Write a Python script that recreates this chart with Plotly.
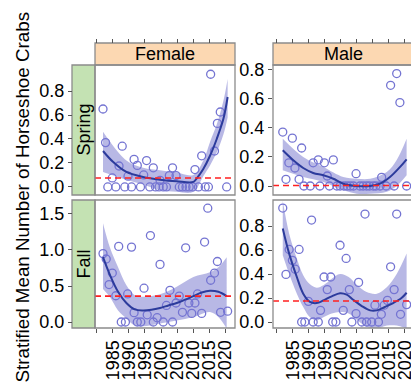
import plotly.graph_objects as go

# ---------------- data ----------------
# Female / Spring
fs_year = [1981.9, 1982.7, 1983.4, 1984.8, 1985.9, 1986.9, 1987.9, 1988.7, 1989.7, 1990.8,
           1991.6, 1992.6, 1993.6, 1994.6, 1995.5, 1996.5, 1997.6, 1998.3, 1999.4, 1999.7,
           2000.7, 2001.7, 2002.6, 2003.6, 2004.7, 2005.7, 2006.7, 2007.8, 2008.8, 2009.9,
           2010.6, 2011.7, 2012.7, 2013.8, 2014.8, 2015.5, 2016.7, 2017.6, 2018.5, 2020.5]
fs_val = [0.65, 0.37, 0.0, 0.075, 0.0, 0.175, 0.34, 0.0, 0.09, 0.0,
          0.23, 0.18, 0.0, 0.10, 0.22, 0.0, 0.16, 0.0, 0.0, 0.055,
          0.0, 0.0, 0.095, 0.16, 0.095, 0.0, 0.0, 0.0, 0.0, 0.0,
          0.145, 0.0, 0.26, 0.0, 0.0, 0.94, 0.30, 0.53, 0.625, 0.0]
fs_fit_year = [1981.9, 1985, 1989.2, 1994.4, 1999.7, 2004.9, 2010.1, 2011.1, 2013.2, 2015.3, 2017.4, 2019.5, 2020.8]
fs_fit = [0.30, 0.21, 0.125, 0.083, 0.06, 0.047, 0.042, 0.07, 0.15, 0.26, 0.40, 0.57, 0.75]
fs_band_year = [1981.9, 1989.2, 1994.4, 1999.7, 2004.9, 2010.1, 2013.2, 2015.3, 2017.4, 2019.5, 2020.8]
fs_hi = [0.46, 0.22, 0.16, 0.14, 0.12, 0.10, 0.22, 0.375, 0.52, 0.72, 0.90]
fs_lo = [0.125, 0.06, 0.02, -0.025, -0.04, -0.04, 0.09, 0.18, 0.29, 0.44, 0.58]
fs_ref = 0.075

# Male / Spring
ms_year = [1981.9, 1982.9, 1983.8, 1984.9, 1985.7, 1987.0, 1987.8, 1988.5, 1990.5, 1991.4,
           1993.0, 1993.5, 1994.9, 1995.8, 1996.5, 1997.7, 1998.8, 1999.8, 2001.0, 2002.0,
           2003.0, 2004.0, 2004.8, 2006.0, 2007.0, 2008.1, 2009.0, 2010.2, 2011.0, 2012.3,
           2012.8, 2014.2, 2015.6, 2016.7, 2017.5, 2018.5, 2020.6]
ms_val = [0.372, 0.046, 0.16, 0.33, 0.124, 0.046, 0.262, 0.0, 0.0, 0.16,
          0.18, 0.0, 0.16, 0.069, 0.0, 0.18, 0.0, 0.0, 0.0, 0.0,
          0.0, 0.0, 0.085, 0.0, 0.0, 0.0, 0.0, 0.0, 0.0, 0.0,
          0.06, 0.0, 0.694, 0.0, 0.775, 0.575, 0.0]
ms_fit_year = [1981.9, 1985.2, 1988.3, 1991.4, 1994.6, 1997.7, 2000.8, 2005, 2009.2, 2012.3, 2015.4, 2018.5, 2020.6]
ms_fit = [0.246, 0.177, 0.124, 0.09, 0.074, 0.05, 0.016, 0.0, 0.0, 0.016, 0.062, 0.13, 0.184]
ms_band_year = [1981.9, 1988.3, 1994.6, 2000.8, 2005, 2009.2, 2014.4, 2017.5, 2020.6]
ms_hi = [0.326, 0.2, 0.131, 0.062, 0.05, 0.05, 0.097, 0.18, 0.326]
ms_lo = [0.108, 0.062, 0.028, -0.03, -0.053, -0.053, -0.04, 0.0, 0.074]
ms_ref = 0.003

# Female / Fall
ff_year = [1981.9, 1982.9, 1983.8, 1984.8, 1985.9, 1986.8, 1987.6, 1988.9, 1989.6, 1990.8,
           1991.6, 1992.6, 1993.7, 1994.7, 1995.7, 1996.7, 1997.6, 1998.8, 1999.7, 2000.7,
           2001.7, 2002.8, 2003.6, 2004.7, 2005.7, 2006.7, 2007.7, 2008.7, 2009.6, 2010.6,
           2011.4, 2012.7, 2013.6, 2014.6, 2015.5, 2016.7, 2017.6, 2018.6, 2020.8]
ff_val = [0.95, 0.875, 0.52, 0.68, 0.365, 1.05, 0.0, 0.0, 0.39, 1.04,
          0.13, 0.0, 0.0, 0.47, 0.10, 1.20, 0.0, 0.06, 0.80, 0.0,
          0.23, 0.44, 0.0, 0.264, 0.36, 0.135, 1.03, 0.264, 0.12, 0.264,
          0.39, 0.12, 1.11, 1.58, 0.58, 0.68, 0.84, 0.135, 0.15]
ff_fit_year = [1981.9, 1984, 1986.6, 1989.2, 1991.8, 1994.4, 1997, 1999.7, 2002.3, 2004.9,
               2007.5, 2010.1, 2012.7, 2015.3, 2017.9, 2020.5]
ff_fit = [0.9, 0.66, 0.42, 0.264, 0.175, 0.16, 0.17, 0.195, 0.23, 0.264,
          0.31, 0.36, 0.41, 0.435, 0.42, 0.36]
ff_band_year = [1981.9, 1984, 1986.6, 1989.2, 1991.8, 1994.4, 1999.7, 2004.9, 2010.1, 2015.3, 2017.9, 2020.5]
ff_hi = [1.37, 1.04, 0.76, 0.51, 0.37, 0.35, 0.385, 0.49, 0.625, 0.69, 0.76, 0.9]
ff_lo = [0.46, 0.35, 0.16, 0.05, -0.046, -0.06, -0.02, 0.02, 0.07, 0.14, 0.07, -0.09]
ff_ref = 0.36

# Male / Fall
mf_year = [1981.9, 1982.9, 1983.9, 1984.9, 1985.8, 1987.0, 1987.8, 1988.8, 1989.9, 1990.9,
           1991.4, 1993.0, 1993.7, 1994.8, 1995.8, 1996.9, 1997.5, 1998.5, 1999.8, 2000.8,
           2001.7, 2002.7, 2003.5, 2004.8, 2005.6, 2006.6, 2007.6, 2008.1, 2009.7, 2010.7,
           2011.8, 2012.7, 2013.6, 2014.6, 2015.6, 2016.7, 2017.5, 2018.7, 2020.6]
mf_val = [0.95, 0.397, 0.605, 0.514, 0.44, 0.605, 0.0, 0.0, 0.172, 0.85,
          0.0, 0.0, 0.097, 0.375, 0.27, 0.375, 0.0, 0.0, 0.64, 0.097,
          0.53, 0.27, 0.0, 0.07, 0.33, 0.0, 0.9, 0.0, 0.0, 0.14,
          0.0, 0.064, 0.14, 0.18, 0.46, 0.27, 0.9, 0.064, 0.145]
mf_fit_year = [1981.9, 1983.9, 1986.3, 1988.3, 1990.4, 1992.5, 1994.6, 1997.2, 1999.8, 2001.9,
               2003.9, 2006.6, 2009.2, 2011.3, 2013.8, 2016.4, 2019, 2020.6]
mf_fit = [0.78, 0.57, 0.375, 0.236, 0.167, 0.158, 0.18, 0.214, 0.24, 0.228,
          0.186, 0.133, 0.097, 0.097, 0.125, 0.158, 0.2, 0.244]
mf_band_year = [1981.9, 1983.9, 1986.3, 1988.3, 1990.4, 1992.5, 1994.6, 1997.2, 1999.8, 2002.5,
                2005.2, 2008.1, 2011.3, 2014.4, 2017.5, 2020.6]
mf_hi = [1.01, 0.736, 0.53, 0.39, 0.314, 0.286, 0.306, 0.36, 0.40, 0.375,
         0.306, 0.25, 0.236, 0.29, 0.40, 0.57]
mf_lo = [0.556, 0.40, 0.236, 0.125, 0.04, 0.014, 0.04, 0.07, 0.083, 0.07,
         0.014, -0.04, -0.056, -0.03, -0.03, -0.056]
mf_ref = 0.175

sex_labels = ["Female", "Male"]
season_labels = ["Spring", "Fall"]
x_tickvals = [1980, 1985, 1990, 1995, 2000, 2005, 2010, 2015, 2020]
x_ticktext = ["", "1985", "1990", "1995", "2000", "2005", "2010", "2015", "2020"]
y_title = "Stratified Mean Number of Horseshoe Crabs"

# ---------------- styling / layout ----------------
W, H = 411, 386
FONT = "Liberation Sans, Arial, sans-serif"
PT = "#7474d2"
LINE = "#2c3b9c"
BAND = "rgba(118,118,205,0.52)"
REF = "#ff2020"
BORDER = "#8c8c8c"
PEACH = "#fcd8b2"
GREEN = "#c4e2b3"

def fx(p):
    return p / W

def fy(p):
    return 1 - p / H

panels = [
    dict(pt=(fs_year, fs_val), fit=(fs_fit_year, fs_fit), band=(fs_band_year, fs_hi, fs_lo), ref=fs_ref,
         xa="x", ya="y", xpx=(95, 235), ypx=(65, 195), xr=(1979.4, 2023.1), yr=(-0.067, 1.017),
         yt=[0, 0.2, 0.4, 0.6, 0.8], female=True, spring=True),
    dict(pt=(ms_year, ms_val), fit=(ms_fit_year, ms_fit), band=(ms_band_year, ms_hi, ms_lo), ref=ms_ref,
         xa="x2", ya="y2", xpx=(273, 411), ypx=(65, 195), xr=(1978.85, 2021.97), yr=(-0.062, 0.834),
         yt=[0, 0.2, 0.4, 0.6, 0.8], female=False, spring=True),
    dict(pt=(ff_year, ff_val), fit=(ff_fit_year, ff_fit), band=(ff_band_year, ff_hi, ff_lo), ref=ff_ref,
         xa="x3", ya="y3", xpx=(95, 235), ypx=(200, 328), xr=(1979.4, 2023.1), yr=(-0.083, 1.694),
         yt=[0, 0.5, 1.0, 1.5], female=True, spring=False),
    dict(pt=(mf_year, mf_val), fit=(mf_fit_year, mf_fit), band=(mf_band_year, mf_hi, mf_lo), ref=mf_ref,
         xa="x4", ya="y4", xpx=(273, 411), ypx=(200, 328), xr=(1978.85, 2021.97), yr=(-0.05, 1.017),
         yt=[0, 0.2, 0.4, 0.6, 0.8], female=False, spring=False),
]

fig = go.Figure()
shapes = []
annotations = []
layout = dict(
    width=W, height=H, margin=dict(l=0, r=0, t=0, b=0, autoexpand=False),
    paper_bgcolor="white", plot_bgcolor="white", showlegend=False,
    font=dict(family=FONT, size=18, color="black"),
)

for p in panels:
    by, bhi, blo = p["band"]
    fig.add_trace(go.Scatter(x=by, y=blo, mode="lines", line=dict(width=0, shape="spline"),
                             xaxis=p["xa"], yaxis=p["ya"], hoverinfo="skip"))
    fig.add_trace(go.Scatter(x=by, y=bhi, mode="lines", line=dict(width=0, shape="spline"),
                             fill="tonexty", fillcolor=BAND,
                             xaxis=p["xa"], yaxis=p["ya"], hoverinfo="skip"))
    fig.add_trace(go.Scatter(x=p["pt"][0], y=p["pt"][1], mode="markers",
                             marker=dict(symbol="circle-open", size=8, color=PT, line=dict(width=1.3, color=PT)),
                             xaxis=p["xa"], yaxis=p["ya"]))
    fig.add_trace(go.Scatter(x=p["fit"][0], y=p["fit"][1], mode="lines",
                             line=dict(color=LINE, width=2, shape="spline"),
                             xaxis=p["xa"], yaxis=p["ya"]))
    # reference line across the panel
    shapes.append(dict(type="line", xref=p["xa"] + " domain", yref=p["ya"],
                       x0=0, x1=1, y0=p["ref"], y1=p["ref"],
                       line=dict(color=REF, width=1.6, dash="6px,4px"), layer="above"))

    xkey = "xaxis" + p["xa"][1:]
    ykey = "yaxis" + p["ya"][1:]
    xdom = [fx(p["xpx"][0]), min(1.0, fx(p["xpx"][1]))]
    ydom = [fy(p["ypx"][1]), fy(p["ypx"][0])]
    xa = dict(domain=xdom, range=list(p["xr"]), showgrid=False, zeroline=False, showline=False,
              tickvals=x_tickvals, ticktext=x_ticktext, ticks="outside", ticklen=4, tickwidth=1,
              tickcolor="#555", fixedrange=True, automargin=False, ticklabeloverflow="allow")
    if p["spring"]:
        xa.update(anchor="free", position=fy(43), side="top", showticklabels=False)
    else:
        xa.update(anchor=p["ya"], side="bottom", showticklabels=True, tickangle=-90,
                  tickfont=dict(size=18, family=FONT, color="black"))
    ya = dict(domain=ydom, range=list(p["yr"]), showgrid=False, zeroline=False, showline=False,
              tickvals=p["yt"], tickformat=".1f", ticks="outside", ticklen=4, tickwidth=1,
              tickcolor="#555", tickfont=dict(size=18, family=FONT, color="black"), fixedrange=True,
              automargin=False)
    if p["female"]:
        ya.update(anchor="free", position=fx(72))
    else:
        ya.update(anchor=p["xa"])
    layout[xkey] = xa
    layout[ykey] = ya

    # panel border
    x1 = fx(p["xpx"][1]) if p["female"] else 1.02
    shapes.append(dict(type="rect", xref="paper", yref="paper",
                       x0=fx(p["xpx"][0]), x1=x1, y0=fy(p["ypx"][1]), y1=fy(p["ypx"][0]),
                       line=dict(color=BORDER, width=1.3), fillcolor="rgba(0,0,0,0)", layer="above"))

# top strips (sex)
for lab, (a, b) in zip(sex_labels, [(95, 235), (273, 413)]):
    shapes.append(dict(type="rect", xref="paper", yref="paper", x0=fx(a), x1=fx(b) if b <= W else 1.02,
                       y0=fy(65), y1=fy(43), fillcolor=PEACH, line=dict(color=BORDER, width=1.3), layer="below"))
    annotations.append(dict(text=lab, xref="paper", yref="paper", x=fx((a + b) / 2), y=fy(54),
                            showarrow=False, xanchor="center", yanchor="middle",
                            font=dict(size=18, family=FONT, color="black")))
# left strips (season)
for lab, (a, b) in zip(season_labels, [(65, 195), (200, 328)]):
    shapes.append(dict(type="rect", xref="paper", yref="paper", x0=fx(72), x1=fx(95),
                       y0=fy(b), y1=fy(a), fillcolor=GREEN, line=dict(color=BORDER, width=1.3), layer="below"))
    annotations.append(dict(text=lab, xref="paper", yref="paper", x=fx(83.5), y=fy((a + b) / 2),
                            showarrow=False, textangle=-90, xanchor="center", yanchor="middle",
                            font=dict(size=18, family=FONT, color="black")))

annotations.append(dict(text=y_title, xref="paper", yref="paper", x=fx(22), y=fy(197.5),
                        showarrow=False, textangle=-90, xanchor="center", yanchor="middle",
                        font=dict(size=18.8, family=FONT, color="black")))

layout["shapes"] = shapes
layout["annotations"] = annotations
fig.update_layout(**layout)
fig.write_html("out.html", config={"displayModeBar": False},
               post_script="document.body.style.margin='0px';document.body.style.padding='0px';")
